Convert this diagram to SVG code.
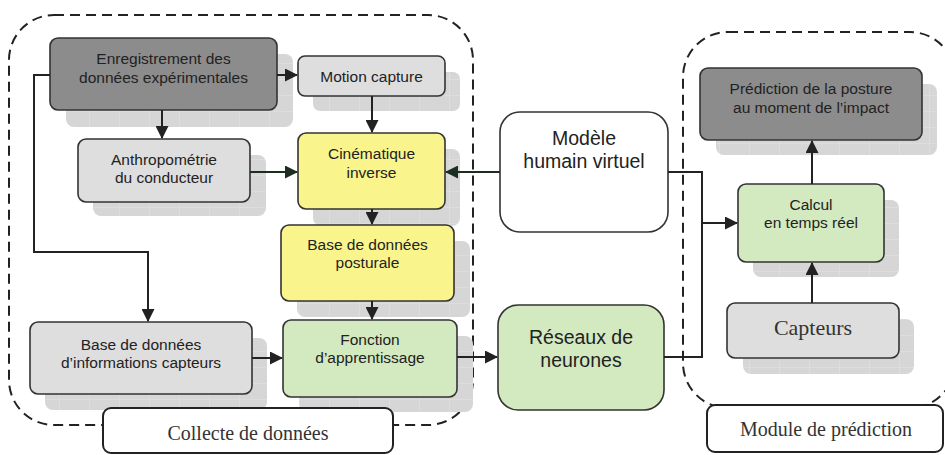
<svg xmlns="http://www.w3.org/2000/svg" width="945" height="455" viewBox="0 0 945 455">
<defs>
<pattern id="grid" width="30" height="16" patternUnits="userSpaceOnUse">
<rect width="30" height="16" fill="#d6d6d6"/>
<path d="M30 0V16M0 16H30" stroke="#e4e4e4" stroke-width="1" fill="none"/>
</pattern>
<marker id="ah" markerWidth="13" markerHeight="13" refX="12" refY="6.5" orient="auto" markerUnits="userSpaceOnUse">
<path d="M0 0L13 6.5L0 13Z" fill="#222"/>
</marker>
<marker id="ahg" markerWidth="13" markerHeight="13" refX="12" refY="6.5" orient="auto" markerUnits="userSpaceOnUse">
<path d="M0 0L13 6.5L0 13Z" fill="#1c2e22"/>
</marker>
</defs>
<style>
.sh{fill:url(#grid);}
.box{stroke:#333;stroke-width:1.6;}
.dark{fill:#8c8c8c;}
.gray{fill:#dedede;}
.yel{fill:#f9f58c;}
.grn{fill:#d3e9c0;}
.wht{fill:#fff;}
.t{font-family:"Liberation Sans",Arial,sans-serif;font-size:15.5px;fill:#222;text-anchor:middle;}
.tb{font-family:"Liberation Sans",Arial,sans-serif;font-size:19.5px;fill:#222;text-anchor:middle;}
.ts{font-family:"Liberation Serif","Times New Roman",serif;fill:#333;text-anchor:middle;}
.cont{fill:none;stroke:#222;stroke-width:2;stroke-dasharray:10 6;}
.lbl{fill:#fff;stroke:#222;stroke-width:2;}
.c{fill:none;stroke:#222;stroke-width:2;}
.cg{fill:none;stroke:#1c2e22;stroke-width:2;}
</style>

<g id="containers">
<rect class="cont" x="9" y="15" width="464" height="410" rx="45"/>
<rect class="cont" x="683" y="32" width="272" height="376" rx="45"/>
</g>

<g id="n-enregistrement">
<rect class="sh" x="66" y="54" width="227" height="73" rx="8"/>
<rect class="box dark" x="50" y="38" width="227" height="72" rx="8"/>
<text class="t" x="163.5" y="63.5">Enregistrement des</text>
<text class="t" x="163.5" y="82.5">données expérimentales</text>
</g>

<g id="n-motion">
<rect class="sh" x="313" y="72" width="147" height="39" rx="7"/>
<rect class="box gray" x="298" y="56" width="147" height="40" rx="7"/>
<text class="t" x="371.5" y="81.5">Motion capture</text>
</g>

<g id="n-anthropometrie">
<rect class="sh" x="93" y="155" width="173" height="61" rx="8"/>
<rect class="box gray" x="78" y="139" width="172" height="63" rx="8"/>
<text class="t" x="164" y="164.5">Anthropométrie</text>
<text class="t" x="164" y="182.5">du conducteur</text>
</g>

<g id="n-cinematique">
<rect class="sh" x="313" y="149" width="147" height="77" rx="8"/>
<rect class="box yel" x="298" y="133" width="147" height="76" rx="8"/>
<text class="t" x="371.5" y="158.5">Cinématique</text>
<text class="t" x="371.5" y="177.5">inverse</text>
</g>

<g id="n-posturale">
<rect class="sh" x="297" y="241" width="173" height="76" rx="8"/>
<rect class="box yel" x="281" y="225" width="173" height="76" rx="8"/>
<text class="t" x="367.5" y="249.5">Base de données</text>
<text class="t" x="367.5" y="267.5">posturale</text>
</g>

<g id="n-fonction">
<rect class="sh" x="299" y="336" width="174" height="76" rx="8"/>
<rect class="box grn" x="283" y="320" width="174" height="77" rx="8"/>
<text class="t" x="370" y="344.5">Fonction</text>
<text class="t" x="370" y="362.5">d’apprentissage</text>
</g>

<g id="n-capteurs-db">
<rect class="sh" x="45" y="338" width="222" height="72" rx="8"/>
<rect class="box gray" x="30" y="322" width="222" height="72" rx="8"/>
<text class="t" x="141" y="349.5">Base de données</text>
<text class="t" x="141" y="367.5">d’informations capteurs</text>
</g>

<g id="n-modele">
<rect class="box wht" x="500" y="112" width="168" height="120" rx="20"/>
<text class="tb" x="584" y="144.5">Modèle</text>
<text class="tb" x="584" y="167.5">humain virtuel</text>
</g>

<g id="n-reseaux">
<rect class="box grn" x="498" y="305" width="166" height="105" rx="20"/>
<text class="tb" x="581" y="344">Réseaux de</text>
<text class="tb" x="581" y="367">neurones</text>
</g>

<g id="n-prediction">
<rect class="sh" x="716" y="84" width="221" height="71" rx="8"/>
<rect class="box dark" x="700" y="68" width="222" height="72" rx="8"/>
<text class="t" x="811" y="93.5">Prédiction de la posture</text>
<text class="t" x="811" y="112.5">au moment de l’impact</text>
</g>

<g id="n-calcul">
<rect class="sh" x="753" y="200" width="146" height="77" rx="8"/>
<rect class="box grn" x="738" y="184" width="146" height="78" rx="8"/>
<text class="t" x="811" y="209.5">Calcul</text>
<text class="t" x="811" y="227.5">en temps réel</text>
</g>

<g id="n-capteurs">
<rect class="sh" x="743" y="319" width="171" height="55" rx="8"/>
<rect class="box gray" x="727" y="303" width="172" height="55" rx="8"/>
<text class="ts" x="813" y="334.5" font-size="22">Capteurs</text>
</g>

<g id="l-collecte">
<rect class="lbl" x="103" y="408" width="290" height="45" rx="8"/>
<text class="ts" x="248" y="440" font-size="20">Collecte de données</text>
</g>

<g id="l-module">
<rect class="lbl" x="707" y="405" width="236" height="47" rx="8"/>
<text class="ts" x="826" y="436" font-size="20">Module de prédiction</text>
</g>

<g id="connectors">
<path class="c" d="M277 75H297" marker-end="url(#ah)"/>
<path class="c" d="M162 110V138" marker-end="url(#ah)"/>
<path class="c" d="M50 75H34V252H148V321" marker-end="url(#ah)"/>
<path class="c" d="M372 96V132" marker-end="url(#ah)"/>
<path class="cg" d="M250 172H297" marker-end="url(#ahg)"/>
<path class="c" d="M372 209V224" marker-end="url(#ah)"/>
<path class="c" d="M372 301V319" marker-end="url(#ah)"/>
<path class="c" d="M252 358H282" marker-end="url(#ah)"/>
<path class="c" d="M457 357H497" marker-end="url(#ah)"/>
<path class="cg" d="M500 172H446" marker-end="url(#ahg)"/>
<path class="c" d="M668 172H702V223H737" marker-end="url(#ah)"/>
<path class="c" d="M664 357H702V223"/>
<path class="c" d="M812 184V141" marker-end="url(#ah)"/>
<path class="c" d="M812 303V263" marker-end="url(#ah)"/>
</g>
</svg>
